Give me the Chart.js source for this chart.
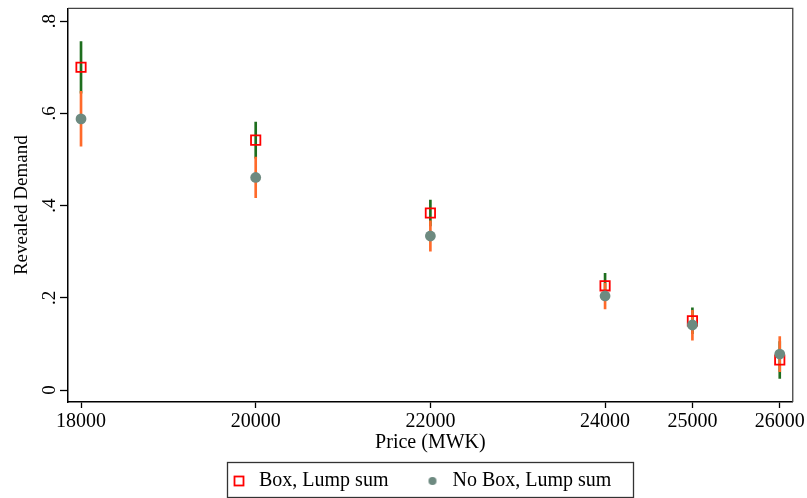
<!DOCTYPE html>
<html><head><meta charset="utf-8">
<script src="https://cdn.jsdelivr.net/npm/chart.js@4.4.1/dist/chart.umd.min.js"></script>
<style>html,body{margin:0;padding:0;background:#fff;}#wrap{width:807px;height:498px;}</style>
</head><body><div id="wrap"><canvas id="c" width="807" height="498"></canvas></div>
<script>
// ---- data ----
const prices = [18000, 20000, 22000, 24000, 25000, 26000];
const boxMean = [0.700, 0.542, 0.384, 0.226, 0.150, 0.065];
const boxLow  = [0.644, 0.503, 0.356, 0.199, 0.122, 0.025];
const boxHigh = [0.756, 0.581, 0.412, 0.253, 0.178, 0.105];
const noBoxMean = [0.588, 0.461, 0.334, 0.204, 0.141, 0.078];
const noBoxLow  = [0.529, 0.417, 0.301, 0.176, 0.108, 0.040];
const noBoxHigh = [0.648, 0.505, 0.367, 0.232, 0.173, 0.116];
const xTicks = [18000, 20000, 22000, 24000, 25000, 26000];
const yTicks = [0, 0.2, 0.4, 0.6, 0.8];
const yTickLabels = ['0', '.2', '.4', '.6', '.8'];
const seriesNames = ['Box, Lump sum', 'No Box, Lump sum'];
const xTitle = 'Price (MWK)';
const yTitle = 'Revealed Demand';

const SERIF = '"Liberation Serif", "Times New Roman", serif';
const RED = '#ff0000', GRAY = '#6d8a80', GREEN = '#1e6e1e', ORANGE = '#ff6a2a';
const LEG_PAD = 34, LEG_FONT = 20;

// legend marker images
const sq = document.createElement('canvas'); sq.width = 12; sq.height = 12;
(function(){ const c = sq.getContext('2d'); c.strokeStyle = RED; c.lineWidth = 1.8; c.strokeRect(1.5, 1.5, 9, 9); })();
const ci = document.createElement('canvas'); ci.width = 10; ci.height = 10;
(function(){ const c = ci.getContext('2d'); c.fillStyle = GRAY; c.beginPath(); c.arc(5, 5, 4, 0, Math.PI * 2); c.fill(); })();

const pts = (ys) => prices.map((p, i) => ({x: p, y: ys[i]}));
const rng = (lo, hi) => prices.map((p, i) => ({x: p, y: [lo[i], hi[i]]}));

function legendGeom(chart) {
  const ctx = chart.ctx;
  ctx.save();
  ctx.font = LEG_FONT + 'px ' + SERIF;
  const ws = seriesNames.map(t => ctx.measureText(t).width);
  ctx.restore();
  const itemW = ws.map(w => LEG_FONT + LEG_FONT / 2 + w);
  const lineW = itemW.reduce((a, b) => a + b + LEG_PAD, 0);
  return {itemW, lineW};
}

const tweak = {
  id: 'tweak',
  afterInit(chart) {
    const lg = chart.legend;
    const orig = lg.fit;
    lg.fit = function () { orig.call(this); this.height = 61; };
  },
  afterLayout(chart) {
    const lg = chart.legend;
    const g = legendGeom(chart);
    const start = (lg.left + LEG_PAD + lg.right - g.lineW) / 2;
    const dx = 229 - start;
    lg.left += dx; lg.right += dx;
  },
  beforeDatasetsDraw(chart) {
    const {ctx, chartArea: a} = chart;
    ctx.save();
    ctx.strokeStyle = '#444'; ctx.lineWidth = 1.3;
    ctx.beginPath();
    ctx.moveTo(a.left, a.top); ctx.lineTo(a.right, a.top); ctx.lineTo(a.right, a.bottom);
    ctx.stroke();
    ctx.restore();
  },
  afterDraw(chart) {
    const lg = chart.legend, ctx = chart.ctx;
    const g = legendGeom(chart);
    const start = (lg.left + LEG_PAD + lg.right - g.lineW) / 2;
    ctx.save();
    ctx.strokeStyle = '#333'; ctx.lineWidth = 1.3;
    const l = Math.round(start - 2) + 0.5;
    ctx.strokeRect(l, Math.round(lg.top + 25) + 0.5, 633.5 - l, 35);
    ctx.restore();
  }
};

new Chart(document.getElementById('c'), {
  type: 'scatter',
  data: {
    datasets: [
      {type: 'scatter', label: seriesNames[1], data: pts(noBoxMean), pointStyle: 'circle', pointRadius: 5.4,
       pointBackgroundColor: GRAY, pointBorderWidth: 0, pointBorderColor: GRAY, order: 0},
      {type: 'scatter', label: seriesNames[0], data: pts(boxMean), pointStyle: 'rect', pointRadius: 6.6,
       pointBackgroundColor: 'rgba(0,0,0,0)', pointBorderColor: RED, pointBorderWidth: 1.8, order: 1},
      {type: 'bar', label: 'ci_nobox', data: rng(noBoxLow, noBoxHigh), backgroundColor: ORANGE, borderWidth: 0,
       barThickness: 2, grouped: false, order: 2},
      {type: 'bar', label: 'ci_box', data: rng(boxLow, boxHigh), backgroundColor: GREEN, borderWidth: 0,
       barThickness: 2, grouped: false, order: 3}
    ]
  },
  options: {
    responsive: false, animation: false, devicePixelRatio: 1,
    layout: {padding: {top: 8, right: 14, left: 0, bottom: 0}},
    plugins: {
      tooltip: {enabled: false},
      legend: {
        position: 'bottom', fullSize: false, align: 'center',
        labels: {
          usePointStyle: true, padding: LEG_PAD, color: '#000',
          font: {family: SERIF, size: LEG_FONT},
          generateLabels: () => [
            {text: seriesNames[0], pointStyle: sq, fillStyle: 'rgba(0,0,0,0)', strokeStyle: 'rgba(0,0,0,0)', lineWidth: 0, hidden: false, datasetIndex: 1},
            {text: seriesNames[1], pointStyle: ci, fillStyle: 'rgba(0,0,0,0)', strokeStyle: 'rgba(0,0,0,0)', lineWidth: 0, hidden: false, datasetIndex: 0}
          ]
        }
      }
    },
    events: [],
    scales: {
      x: {
        type: 'linear', min: 17851, max: 26149, offset: false,
        afterBuildTicks: s => { s.ticks = xTicks.map(v => ({value: v})); },
        afterFit: s => { s.height = 35; },
        ticks: {font: {family: SERIF, size: 20}, color: '#000', padding: 2, autoSkip: false, maxRotation: 0,
                callback: v => String(v)},
        grid: {display: true, offset: false, drawOnChartArea: false, drawTicks: true, tickLength: 6, tickColor: '#000', tickWidth: 1.3},
        border: {display: true, color: '#000', width: 1.5},
        title: {display: true, text: xTitle, color: '#000', font: {family: SERIF, size: 20, lineHeight: 1},
                padding: {top: 0, bottom: -16}}
      },
      y: {
        type: 'linear', min: -0.026, max: 0.8277,
        afterBuildTicks: s => { s.ticks = yTicks.map(v => ({value: v})); },
        afterFit: s => { s.width = 68; s.paddingTop = 0; s.paddingBottom = 0; },
        ticks: {font: {family: SERIF, size: 19}, color: '#000', padding: 3, minRotation: 90, maxRotation: 90,
                crossAlign: 'center', callback: (v, i) => yTickLabels[i]},
        grid: {display: true, offset: false, drawOnChartArea: false, drawTicks: true, tickLength: 8, tickColor: '#000', tickWidth: 1.3},
        border: {display: true, color: '#000', width: 1.5},
        title: {display: true, text: yTitle, color: '#000', font: {family: SERIF, size: 19, lineHeight: 1},
                padding: {top: 12.5, bottom: 0}}
      }
    }
  },
  plugins: [tweak]
});
</script>
</body></html>
